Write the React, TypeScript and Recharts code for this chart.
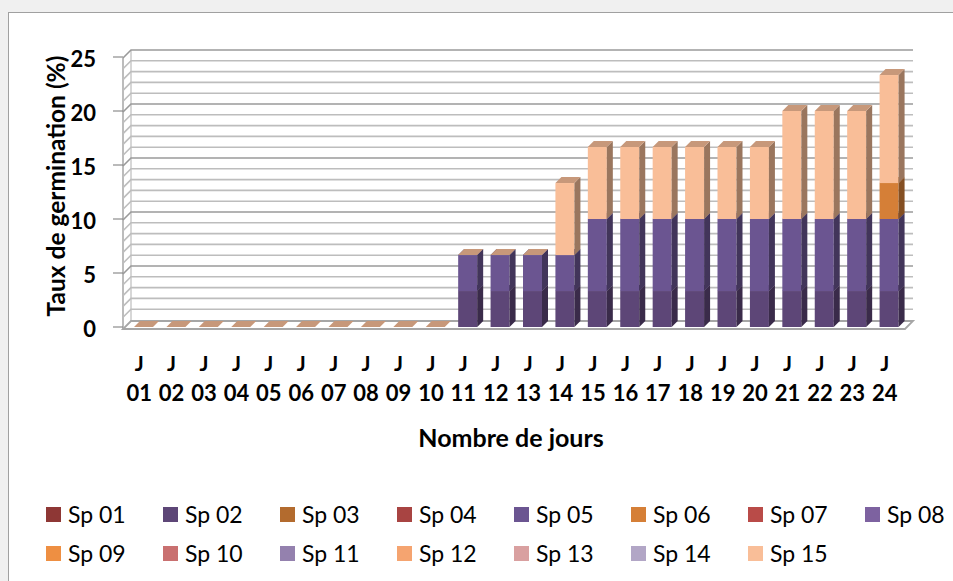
import React from "react";
import { BarChart, Bar, XAxis, YAxis, CartesianGrid } from "recharts";

const days = [
  "J 01", "J 02", "J 03", "J 04", "J 05", "J 06", "J 07", "J 08", "J 09", "J 10", "J 11", "J 12",
  "J 13", "J 14", "J 15", "J 16", "J 17", "J 18", "J 19", "J 20", "J 21", "J 22", "J 23", "J 24",
];

const sp01 = [0, 0, 0, 0, 0, 0, 0, 0, 0, 0, 0, 0, 0, 0, 0, 0, 0, 0, 0, 0, 0, 0, 0, 0];
const sp02 = [0, 0, 0, 0, 0, 0, 0, 0, 0, 0, 3.33, 3.33, 3.33, 3.33, 3.33, 3.33, 3.33, 3.33, 3.33, 3.33, 3.33, 3.33, 3.33, 3.33];
const sp03 = [0, 0, 0, 0, 0, 0, 0, 0, 0, 0, 0, 0, 0, 0, 0, 0, 0, 0, 0, 0, 0, 0, 0, 0];
const sp04 = [0, 0, 0, 0, 0, 0, 0, 0, 0, 0, 0, 0, 0, 0, 0, 0, 0, 0, 0, 0, 0, 0, 0, 0];
const sp05 = [0, 0, 0, 0, 0, 0, 0, 0, 0, 0, 3.33, 3.33, 3.33, 3.33, 6.67, 6.67, 6.67, 6.67, 6.67, 6.67, 6.67, 6.67, 6.67, 6.67];
const sp06 = [0, 0, 0, 0, 0, 0, 0, 0, 0, 0, 0, 0, 0, 0, 0, 0, 0, 0, 0, 0, 0, 0, 0, 3.33];
const sp07 = [0, 0, 0, 0, 0, 0, 0, 0, 0, 0, 0, 0, 0, 0, 0, 0, 0, 0, 0, 0, 0, 0, 0, 0];
const sp08 = [0, 0, 0, 0, 0, 0, 0, 0, 0, 0, 0, 0, 0, 0, 0, 0, 0, 0, 0, 0, 0, 0, 0, 0];
const sp09 = [0, 0, 0, 0, 0, 0, 0, 0, 0, 0, 0, 0, 0, 0, 0, 0, 0, 0, 0, 0, 0, 0, 0, 0];
const sp10 = [0, 0, 0, 0, 0, 0, 0, 0, 0, 0, 0, 0, 0, 0, 0, 0, 0, 0, 0, 0, 0, 0, 0, 0];
const sp11 = [0, 0, 0, 0, 0, 0, 0, 0, 0, 0, 0, 0, 0, 0, 0, 0, 0, 0, 0, 0, 0, 0, 0, 0];
const sp12 = [0, 0, 0, 0, 0, 0, 0, 0, 0, 0, 0, 0, 0, 0, 0, 0, 0, 0, 0, 0, 0, 0, 0, 0];
const sp13 = [0, 0, 0, 0, 0, 0, 0, 0, 0, 0, 0, 0, 0, 0, 0, 0, 0, 0, 0, 0, 0, 0, 0, 0];
const sp14 = [0, 0, 0, 0, 0, 0, 0, 0, 0, 0, 0, 0, 0, 0, 0, 0, 0, 0, 0, 0, 0, 0, 0, 0];
const sp15 = [0, 0, 0, 0, 0, 0, 0, 0, 0, 0, 0, 0, 0, 6.67, 6.67, 6.67, 6.67, 6.67, 6.67, 6.67, 10, 10, 10, 10];

const seriesNames = [
  "Sp 01", "Sp 02", "Sp 03", "Sp 04", "Sp 05", "Sp 06", "Sp 07", "Sp 08",
  "Sp 09", "Sp 10", "Sp 11", "Sp 12", "Sp 13", "Sp 14", "Sp 15",
];
const seriesValues = [sp01, sp02, sp03, sp04, sp05, sp06, sp07, sp08, sp09, sp10, sp11, sp12, sp13, sp14, sp15];
const seriesColors = [
  "#8E3735", "#5D4677", "#B36B2E", "#A84442", "#6B5591", "#D57F37", "#B94B48", "#7D62A0",
  "#EE8F42", "#C97070", "#9481AE", "#F5A470", "#D9A0A0", "#B2A6C6", "#F9BE98",
];

const yTicks = [0, 5, 10, 15, 20, 25];
const gridValues = [0, 1, 2, 3, 4, 5, 6, 7, 8, 9, 10, 11, 12, 13, 14, 15, 16, 17, 18, 19, 20, 21, 22, 23, 24, 25];

const data = days.map((day, i) => {
  const row: any = { day };
  seriesNames.forEach((n, k) => {
    row[n] = seriesValues[k][i];
  });
  return row;
});

const FONT = "Lato, 'Open Sans', sans-serif";
const PLOT_TOP = 57;
const PLOT_BOTTOM = 327;
const WALL_X = 123;
const WALL_D = 8;

function shade(hex: string, f: number) {
  const n = parseInt(hex.slice(1), 16);
  const r = Math.round(((n >> 16) & 255) * f);
  const g = Math.round(((n >> 8) & 255) * f);
  const b = Math.round((n & 255) * f);
  return `rgb(${r},${g},${b})`;
}

const make3D = (fill: string, cap: boolean) => (props: any) => {
  const { x, y, width, height } = props;
  if (x == null || y == null || !width) return <g />;
  const d = 6;
  const side = shade(fill, 0.62);
  const top = shade(fill, 0.8);
  const topPts = `${x},${y} ${x + width},${y} ${x + width + d},${y - d} ${x + d},${y - d}`;
  if (!height || height <= 0.01) {
    if (!cap) return <g />;
    return (
      <g>
        <polygon points={topPts} fill={top} />
      </g>
    );
  }
  return (
    <g>
      <rect x={x} y={y} width={width} height={height} fill={fill} />
      <polygon
        points={`${x + width},${y} ${x + width + d},${y - d} ${x + width + d},${y + height - d} ${x + width},${y + height}`}
        fill={side}
      />
      <polygon points={topPts} fill={top} />
    </g>
  );
};

const GridLine = (props: any) => {
  const { x2, y1 } = props;
  const isFloor = Math.abs(y1 - PLOT_BOTTOM) < 0.6;
  const isMajor = yTicks.some((t) => Math.abs(PLOT_BOTTOM - ((PLOT_BOTTOM - PLOT_TOP) * t) / 25 - y1) < 0.6);
  const stroke = isMajor ? "#9A9A9A" : "#BDBDBD";
  if (isFloor) {
    return (
      <g>
        <line x1={WALL_X} y1={PLOT_TOP + 1} x2={WALL_X} y2={y1 + 2} stroke="#A6A6A6" strokeWidth={1.5} />
        <line x1={WALL_X + WALL_D} y1={PLOT_TOP - 7} x2={WALL_X + WALL_D} y2={y1 - 6} stroke="#BDBDBD" strokeWidth={1.2} />
        <polygon
          points={`${WALL_X},${y1 + 2} ${x2},${y1 + 2} ${x2 + WALL_D},${y1 - 6} ${WALL_X + WALL_D},${y1 - 6}`}
          fill="#FFFFFF"
          stroke="#A6A6A6"
          strokeWidth={1.8}
        />
      </g>
    );
  }
  return (
    <polyline
      points={`${WALL_X},${y1 + 1} ${WALL_X + WALL_D},${y1 - 7} ${x2 + WALL_D},${y1 - 7}`}
      fill="none"
      stroke={stroke}
      strokeWidth={1.6}
    />
  );
};

const YTick = (props: any) => {
  const { y, payload } = props;
  return (
    <g>
      <line x1={113} x2={WALL_X} y1={y} y2={y} stroke="#8C8C8C" strokeWidth={1.2} />
      <text x={96} y={y + 1} textAnchor="end" dominantBaseline="central" fontFamily={FONT} fontWeight={700} fontSize={22} fill="#000">
        {payload.value}
      </text>
    </g>
  );
};

const XTick = (props: any) => {
  const { x, payload } = props;
  const parts = String(payload.value).split(" ");
  return (
    <g>
      <text x={x - 4} y={362} textAnchor="middle" dominantBaseline="central" fontFamily={FONT} fontWeight={700} fontSize={21} fill="#000">
        {parts[0]}
      </text>
      <text x={x - 4} y={392} textAnchor="middle" dominantBaseline="central" fontFamily={FONT} fontWeight={700} fontSize={22} fill="#000">
        {parts[1]}
      </text>
    </g>
  );
};

const YTitle = () => (
  <text
    x={55}
    y={186}
    transform="rotate(-90, 55, 186)"
    textAnchor="middle"
    dominantBaseline="central"
    fontFamily={FONT}
    fontWeight={700}
    fontSize={24.5}
    fill="#000"
  >
    Taux de germination (%)
  </text>
);

const XTitle = () => (
  <text x={511} y={437} textAnchor="middle" dominantBaseline="central" fontFamily={FONT} fontWeight={700} fontSize={25} fill="#000">
    Nombre de jours
  </text>
);

export default function App() {
  return (
    <div style={{ position: "absolute", left: 0, top: 0, width: 953, height: 581, background: "#F0F0F0", overflow: "hidden" }}>
      <div
        style={{
          position: "absolute",
          left: 8,
          top: 12,
          width: 970,
          height: 600,
          background: "#FFFFFF",
          border: "1px solid #A0A0A0",
        }}
      />
      <div style={{ position: "absolute", left: 0, top: 0 }}>
        <BarChart
          width={953}
          height={581}
          data={data}
          margin={{ top: PLOT_TOP, right: 48, left: 4, bottom: 581 - PLOT_BOTTOM - 110 }}
          barSize={19}
          style={{ fontFamily: FONT }}
        >
          <CartesianGrid vertical={false} horizontalValues={gridValues} horizontal={GridLine} />
          <XAxis dataKey="day" height={110} axisLine={false} tickLine={false} interval={0} tick={XTick} label={<XTitle />} />
          <YAxis
            domain={[0, 25]}
            ticks={yTicks}
            width={123}
            axisLine={false}
            tickLine={false}
            interval={0}
            tick={YTick}
            label={<YTitle />}
          />
          {seriesNames.map((name, k) => (
            <Bar
              key={name}
              dataKey={name}
              stackId="a"
              fill={seriesColors[k]}
              isAnimationActive={false}
              shape={make3D(seriesColors[k], k === seriesNames.length - 1)}
            />
          ))}
        </BarChart>
      </div>
      {seriesNames.map((name, k) => {
        const col = k % 8;
        const row = Math.floor(k / 8);
        return (
          <div
            key={name}
            style={{
              position: "absolute",
              left: 46 + col * 117,
              top: (row === 0 ? 514 : 553) - 15,
              height: 30,
              display: "flex",
              alignItems: "center",
              fontFamily: FONT,
              fontSize: 23,
              color: "#000",
              whiteSpace: "nowrap",
            }}
          >
            <span style={{ display: "inline-block", width: 15, height: 15, background: seriesColors[k], marginRight: 7 }} />
            <span>{name}</span>
          </div>
        );
      })}
    </div>
  );
}
